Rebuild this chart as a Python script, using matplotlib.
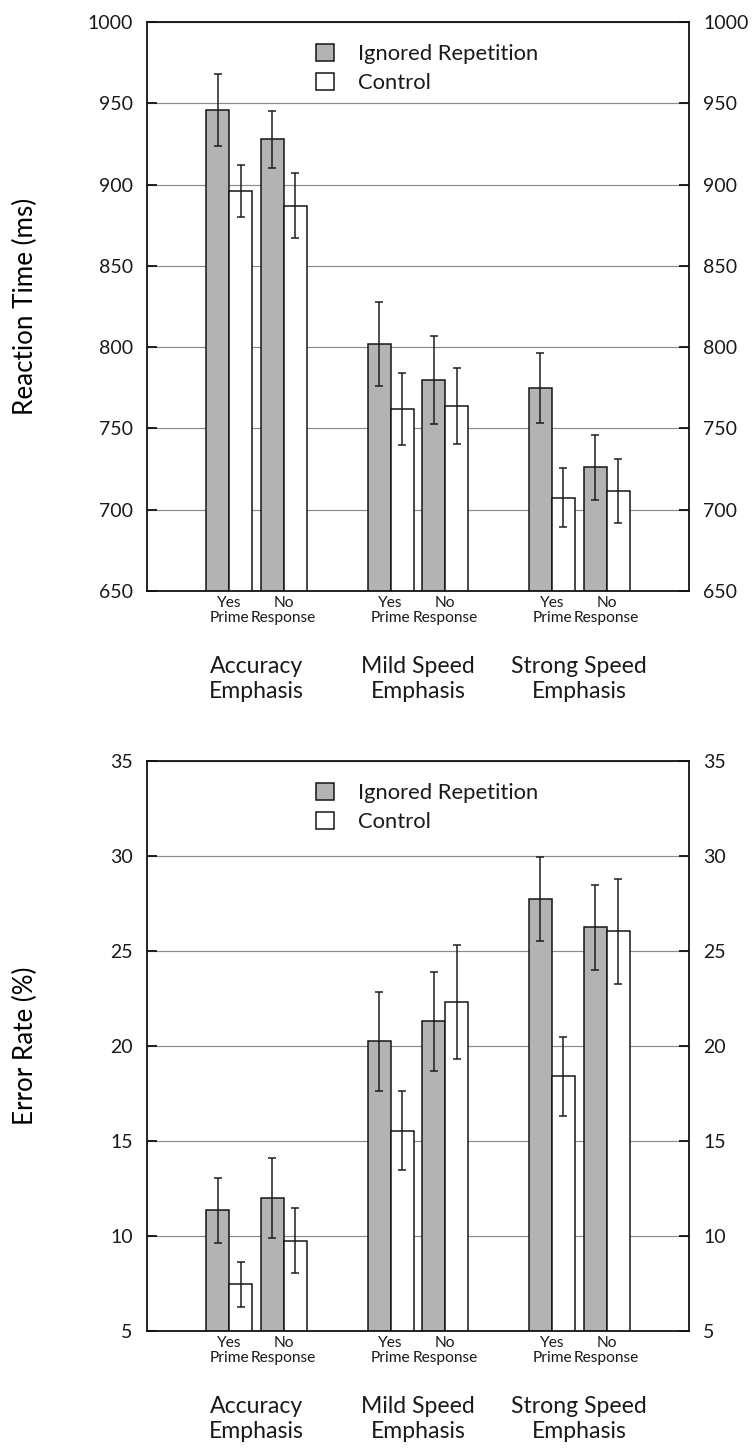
import matplotlib.pyplot as plt
import numpy as np

plt.rcParams['font.family'] = ['Lato', 'DejaVu Sans']
plt.rcParams['text.color'] = '#1a1a1a'

groups = ['Accuracy\nEmphasis', 'Mild Speed\nEmphasis', 'Strong Speed\nEmphasis']
primes = ['Yes\nPrime', 'No\nResponse']
series = ['Ignored Repetition', 'Control']

# order: Accuracy Yes, Accuracy No, Mild Yes, Mild No, Strong Yes, Strong No
rt_ignored = [946, 928, 802, 780, 775, 726]
rt_ignored_err = [22, 17.5, 26, 27, 21.5, 20]
rt_control = [896, 887, 762, 764, 707.5, 711.5]
rt_control_err = [16, 20, 22, 23.5, 18, 19.5]

err_ignored = [11.35, 12.0, 20.25, 21.3, 27.75, 26.25]
err_ignored_err = [1.7, 2.1, 2.6, 2.6, 2.2, 2.25]
err_control = [7.45, 9.75, 15.55, 22.3, 18.4, 26.05]
err_control_err = [1.17, 1.7, 2.1, 3.0, 2.07, 2.76]

W = 0.1426
OFF = 0.169


def draw_panel(ax, ign, ign_err, ctl, ctl_err, ylim, ystep, ylabel):
    centers = np.array([g + d for g in range(len(groups)) for d in (-OFF, OFF)])
    ax.bar(centers - W / 2, ign, W, color='#b3b3b3', edgecolor='#111',
           linewidth=1.5, label=series[0], zorder=2)
    ax.bar(centers + W / 2, ctl, W, color='white', edgecolor='#111',
           linewidth=1.5, label=series[1], zorder=2)
    for xs, ys, es in ((centers - W / 2, ign, ign_err), (centers + W / 2, ctl, ctl_err)):
        ax.errorbar(xs, ys, yerr=es, fmt='none', ecolor='#1a1a1a',
                    elinewidth=1.5, capsize=4, capthick=1.5, zorder=3)

    ax.set_xlim(-0.68, 2.68)
    ax.set_ylim(*ylim)
    ax.set_yticks(np.arange(ylim[0], ylim[1] + 1, ystep))
    ax.set_axisbelow(True)
    ax.yaxis.grid(True, color='#8c8c8c', linewidth=1.2)
    for s in ax.spines.values():
        s.set_linewidth(1.8)
        s.set_color('#111')

    ax.tick_params(axis='y', direction='in', length=10, width=1.8,
                   left=True, right=True, labelleft=True, labelright=True,
                   labelsize=19.5, pad=14, colors='#111', labelcolor='#1a1a1a')
    ax.set_xticks(centers, labels=primes * len(groups))
    ax.tick_params(axis='x', length=0, labelsize=15.5, pad=5, labelcolor='#1a1a1a')
    for t in ax.get_xticklabels():
        t.set_linespacing(1.05)

    for g, name in enumerate(groups):
        ax.annotate(name, xy=(g, 0), xycoords=('data', 'axes fraction'),
                    xytext=(0, -88), textcoords='offset points',
                    ha='center', va='center', fontsize=23, linespacing=1.2)

    ax.set_ylabel(ylabel, fontsize=26, va='center')
    ax.yaxis.set_label_coords(-0.224, 0.5)

    ax.legend(loc='upper left', bbox_to_anchor=(0.312, 0.961), frameon=False,
              fontsize=22, handlelength=0.82, handleheight=0.82,
              handletextpad=1.1, labelspacing=0.38, borderpad=0, borderaxespad=0)


fig = plt.figure(figsize=(755 / 72, 1449 / 72), dpi=72)
ax1 = fig.add_axes([0.1943, 0.5921, 0.7183, 0.3927])
ax2 = fig.add_axes([0.1943, 0.0814, 0.7183, 0.3934])

draw_panel(ax1, rt_ignored, rt_ignored_err, rt_control, rt_control_err,
           (650, 1000), 50, 'Reaction Time (ms)')
draw_panel(ax2, err_ignored, err_ignored_err, err_control, err_control_err,
           (5, 35), 5, 'Error Rate (%)')

fig.savefig('out.png', dpi=72)
